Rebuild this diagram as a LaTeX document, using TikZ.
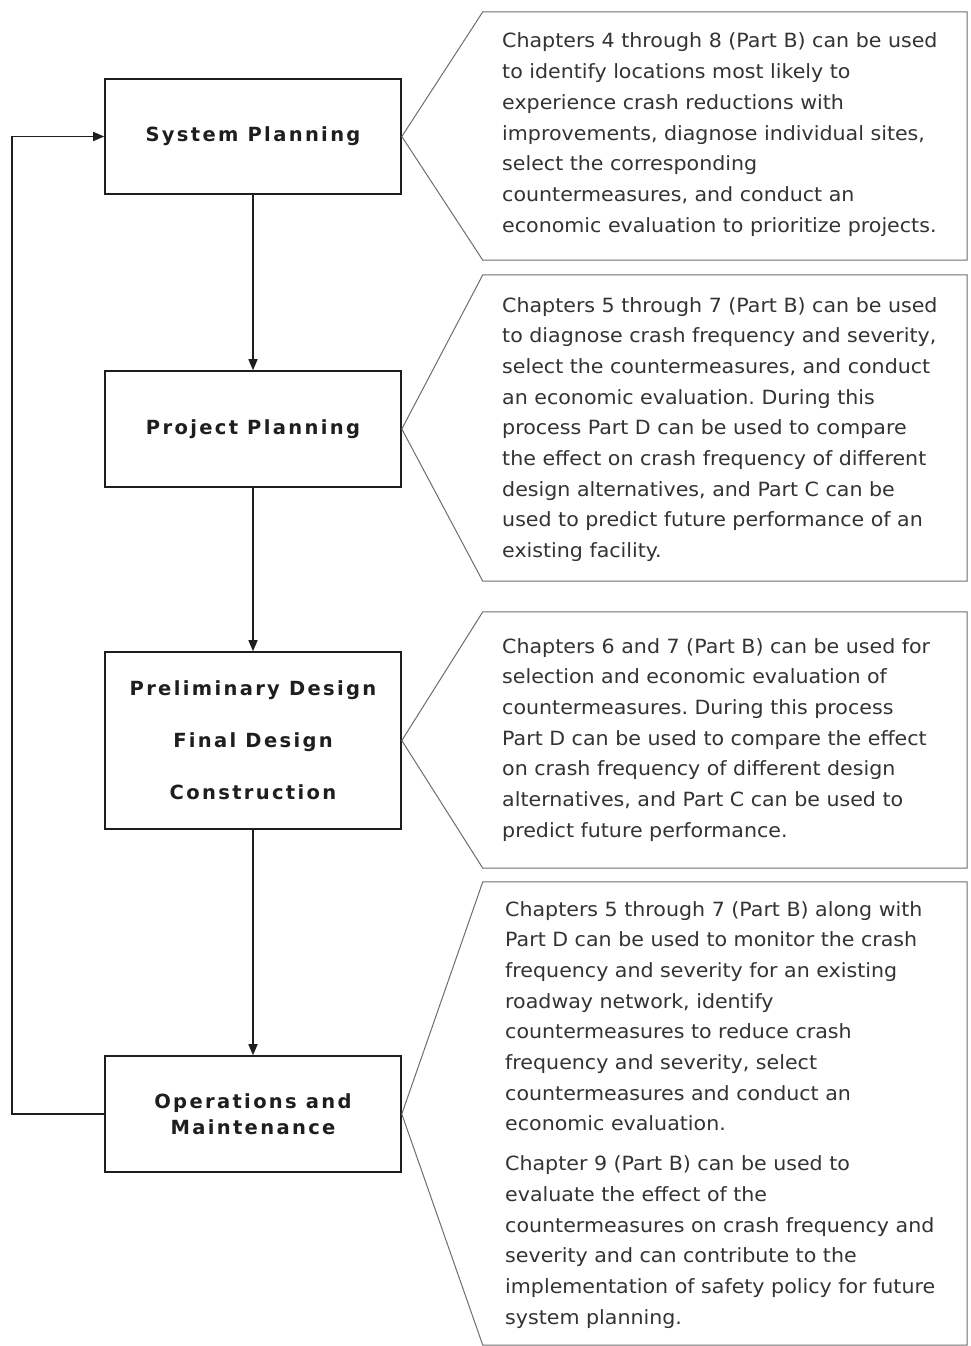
\documentclass[tikz,border=0pt]{standalone}
\usepackage{fontspec}
\setmainfont{DejaVu Sans}[FakeStretch=1.05]
\newfontfamily\titlefont[LetterSpace=12]{DejaVu Sans Bold}
\usetikzlibrary{arrows.meta}
\definecolor{boxline}{HTML}{1E1E1E}
\definecolor{calline}{HTML}{6E6E6E}
\definecolor{bodytext}{HTML}{333333}
\tikzset{
  stagebox/.style={draw=boxline, line width=1.6pt, minimum width=296pt, inner sep=0pt, align=center,
    font=\titlefont\fontsize{19.5}{20}\selectfont, text=boxline},
  flowarrow/.style={draw=boxline, line width=1.6pt, -{Triangle[length=11pt,width=9pt]}},
  callshape/.style={minimum width=484pt, inner sep=0pt},
  callout/.style={draw=calline, line width=1pt, line join=miter},
  bodytxt/.style={anchor=base west, inner sep=0pt, text width=462pt, align=left, text=bodytext,
    font=\frenchspacing\fontsize{19.6}{30.7}\selectfont}
}
\begin{document}
\begin{tikzpicture}[x=1pt,y=-1pt]
\useasboundingbox (0,0) rectangle (970,1346);
\fill[white] (0,0) rectangle (970,1346);
% stage boxes
\node[stagebox, minimum height=115pt] (b1) at (253,136.5) {System Planning};
\node[stagebox, minimum height=116pt] (b2) at (253,429) {Project Planning};
\node[stagebox, minimum height=177pt] (b3) at (253,740.5) {Preliminary Design\\[32pt]Final Design\\[32pt]Construction};
\node[stagebox, minimum height=116pt] (b4) at (253,1114) {Operations and\\[6pt]Maintenance};
% arrows
\draw[flowarrow] (b1.south) -- (b2.north);
\draw[flowarrow] (b2.south) -- (b3.north);
\draw[flowarrow] (b3.south) -- (b4.north);
\coordinate (lp) at (12,600);
\draw[flowarrow] (b4.west) -- (b4.west -| lp) -- (b1.west -| lp) -- (b1.west);
% callout frames
\node[callshape, minimum height=248pt] (c1) at (725,136) {};
\node[callshape, minimum height=306pt] (c2) at (725,428) {};
\node[callshape, minimum height=256pt] (c3) at (725,740) {};
\node[callshape, minimum height=463pt] (c4) at (725,1113.5) {};
\foreach \b/\c in {b1/c1,b2/c2,b3/c3,b4/c4}{
  \draw[callout] (\b.east) -- (\c.north west) -- (\c.north east) -- (\c.south east) -- (\c.south west) -- cycle;
}
% texts
\node[bodytxt] (t1) at (502,48) {Chapters 4 through 8 (Part B) can be used\\to identify locations most likely to\\experience crash reductions with\\improvements, diagnose individual sites,\\select the corresponding\\countermeasures, and conduct an\\economic evaluation to prioritize projects.};
\node[bodytxt] (t2) at (502,312) {Chapters 5 through 7 (Part B) can be used\\to diagnose crash frequency and severity,\\select the countermeasures, and conduct\\an economic evaluation. During this\\process Part D can be used to compare\\the effect on crash frequency of different\\design alternatives, and Part C can be\\used to predict future performance of an\\existing facility.};
\node[bodytxt] (t3) at (502,653) {Chapters 6 and 7 (Part B) can be used for\\selection and economic evaluation of\\countermeasures. During this process\\Part D can be used to compare the effect\\on crash frequency of different design\\alternatives, and Part C can be used to\\predict future performance.};
\node[bodytxt] (t4) at (505,916) {Chapters 5 through 7 (Part B) along with\\Part D can be used to monitor the crash\\frequency and severity for an existing\\roadway network, identify\\countermeasures to reduce crash\\frequency and severity, select\\countermeasures and conduct an\\economic evaluation.\\[9pt]Chapter 9 (Part B) can be used to\\evaluate the effect of the\\countermeasures on crash frequency and\\severity and can contribute to the\\implementation of safety policy for future\\system planning.};
\end{tikzpicture}
\end{document}
